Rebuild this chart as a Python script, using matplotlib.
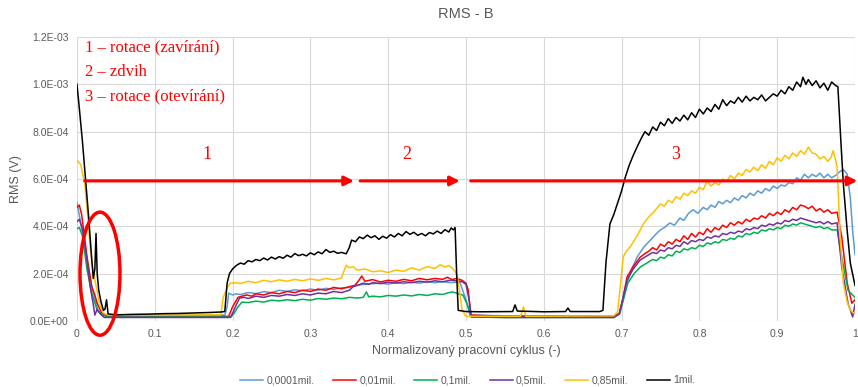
import matplotlib

matplotlib.use("Agg")
import matplotlib.pyplot as plt
import numpy as np
from matplotlib.patches import Ellipse
from matplotlib.ticker import FuncFormatter

# RMS traces over the normalised working cycle, values in units of 1e-4 V
UNIT = 1e-4

x_0001 = [0, 0.004, 0.008, 0.014, 0.021, 0.027, 0.034, 0.1, 0.19, 0.193, 0.195, 0.2, 0.205,
          0.21, 0.22, 0.23, 0.24, 0.25, 0.26, 0.27, 0.28, 0.29, 0.30, 0.31, 0.32, 0.33, 0.34,
          0.35, 0.36, 0.37, 0.38, 0.39, 0.40, 0.41, 0.42, 0.43, 0.44, 0.45, 0.46, 0.47, 0.48,
          0.492, 0.5, 0.505, 0.55, 0.69, 0.698, 0.703, 0.707, 0.713, 0.72, 0.728, 0.737, 0.745,
          0.75, 0.755, 0.762, 0.768, 0.775, 0.78, 0.786, 0.792, 0.798, 0.805, 0.81, 0.815, 0.82,
          0.825, 0.83, 0.835, 0.84, 0.845, 0.85, 0.855, 0.86, 0.865, 0.87, 0.875, 0.88, 0.885,
          0.89, 0.895, 0.90, 0.905, 0.91, 0.915, 0.92, 0.925, 0.93, 0.935, 0.94, 0.945, 0.95,
          0.955, 0.96, 0.965, 0.97, 0.975, 0.98, 0.985, 0.99, 0.994, 0.997, 1.0]
y_0001 = [5.0, 4.3, 3.5, 2.28, 1.18, 0.46, 0.25, 0.24, 0.25, 0.6, 1.18, 1.1, 1.15,
          1.12, 1.2, 1.16, 1.24, 1.2, 1.3, 1.25, 1.32, 1.28, 1.35, 1.3, 1.38, 1.34, 1.4,
          1.42, 1.52, 1.55, 1.58, 1.6, 1.56, 1.62, 1.58, 1.64, 1.6, 1.66, 1.62, 1.66, 1.62,
          1.65, 0.9, 0.25, 0.22, 0.22, 0.33, 1.0, 1.6, 2.2, 2.7, 3.1, 3.42, 3.7,
          3.85, 3.95, 4.14, 4.05, 4.35, 4.25, 4.55, 4.7, 4.55, 4.8, 4.7, 4.9, 4.8,
          5.05, 4.95, 5.1, 5.0, 5.2, 5.1, 5.3, 5.2, 5.4, 5.3, 5.5, 5.4, 5.6,
          5.5, 5.7, 5.6, 5.75, 5.7, 5.85, 5.8, 6.05, 5.95, 6.2, 6.05, 6.2, 6.1,
          6.25, 6.05, 6.2, 6.05, 6.15, 6.3, 6.4, 6.2, 5.2, 3.8, 2.8]

x_001 = [0, 0.003, 0.006, 0.013, 0.019, 0.023, 0.026, 0.032, 0.04, 0.1, 0.195, 0.2, 0.207,
         0.212, 0.218, 0.225, 0.23, 0.24, 0.25, 0.26, 0.27, 0.28, 0.29, 0.30, 0.31, 0.32,
         0.33, 0.34, 0.35, 0.357, 0.362, 0.366, 0.37, 0.38, 0.39, 0.40, 0.41, 0.42, 0.43,
         0.44, 0.45, 0.46, 0.47, 0.476, 0.482, 0.488, 0.495, 0.5, 0.503, 0.506, 0.55, 0.69,
         0.697, 0.702, 0.707, 0.715, 0.724, 0.73, 0.735, 0.74, 0.745, 0.75, 0.755, 0.76,
         0.765, 0.77, 0.775, 0.78, 0.785, 0.79, 0.795, 0.80, 0.805, 0.81, 0.815, 0.82, 0.825,
         0.83, 0.835, 0.84, 0.845, 0.85, 0.855, 0.86, 0.865, 0.87, 0.875, 0.88, 0.885, 0.89,
         0.895, 0.90, 0.905, 0.91, 0.915, 0.92, 0.925, 0.93, 0.935, 0.94, 0.945, 0.95, 0.955,
         0.96, 0.965, 0.97, 0.977, 0.983, 0.99, 0.996, 1.0]
y_001 = [4.8, 4.9, 4.5, 2.7, 1.45, 1.1, 0.75, 0.33, 0.2, 0.2, 0.2, 0.6, 1.0,
         1.05, 1.1, 1.05, 1.15, 1.1, 1.2, 1.15, 1.25, 1.2, 1.3, 1.25, 1.35, 1.3,
         1.42, 1.36, 1.45, 1.5, 1.7, 1.9, 1.68, 1.75, 1.65, 1.72, 1.68, 1.76, 1.7,
         1.8, 1.74, 1.8, 1.76, 1.85, 1.75, 1.8, 1.72, 1.6, 1.3, 0.25, 0.2, 0.2,
         0.3, 1.0, 1.86, 2.3, 2.7, 2.85, 2.95, 3.1, 3.0, 3.25, 3.15, 3.35,
         3.25, 3.45, 3.35, 3.6, 3.45, 3.7, 3.55, 3.75, 3.65, 3.9, 3.75, 3.95, 3.85,
         4.05, 3.95, 4.15, 4.05, 4.2, 4.1, 4.3, 4.2, 4.35, 4.3, 4.45, 4.35, 4.55,
         4.45, 4.6, 4.5, 4.7, 4.6, 4.8, 4.7, 4.9, 4.85, 4.75, 4.85, 4.65, 4.75,
         4.6, 4.7, 4.55, 4.6, 3.55, 1.6, 0.75, 0.9]

x_01 = [0, 0.003, 0.007, 0.013, 0.019, 0.026, 0.032, 0.04, 0.1, 0.198, 0.202, 0.207, 0.212,
        0.22, 0.23, 0.24, 0.25, 0.26, 0.27, 0.28, 0.29, 0.30, 0.31, 0.32, 0.33, 0.34, 0.35,
        0.36, 0.368, 0.372, 0.375, 0.38, 0.39, 0.40, 0.41, 0.42, 0.43, 0.44, 0.45, 0.46, 0.47,
        0.478, 0.483, 0.49, 0.496, 0.503, 0.507, 0.55, 0.69, 0.697, 0.703, 0.708, 0.716,
        0.724, 0.73, 0.735, 0.74, 0.745, 0.75, 0.755, 0.76, 0.765, 0.77, 0.775, 0.78, 0.785,
        0.79, 0.795, 0.80, 0.805, 0.81, 0.815, 0.82, 0.825, 0.83, 0.835, 0.84, 0.845, 0.85,
        0.855, 0.86, 0.865, 0.87, 0.875, 0.88, 0.885, 0.89, 0.895, 0.90, 0.905, 0.91, 0.915,
        0.92, 0.925, 0.93, 0.935, 0.94, 0.945, 0.95, 0.955, 0.96, 0.965, 0.97, 0.977, 0.983,
        0.991, 1.0]
y_01 = [3.9, 3.95, 3.6, 2.16, 1.18, 0.46, 0.25, 0.17, 0.17, 0.17, 0.33, 0.6, 0.8,
        0.78, 0.84, 0.8, 0.88, 0.85, 0.9, 0.86, 0.92, 0.88, 0.95, 0.92, 0.97, 0.94, 1.0,
        0.97, 1.0, 1.23, 1.02, 1.05, 1.02, 1.08, 1.05, 1.1, 1.06, 1.12, 1.08, 1.15, 1.12,
        1.2, 1.23, 1.15, 1.1, 0.6, 0.17, 0.15, 0.15, 0.3, 1.0, 1.6, 2.0,
        2.28, 2.4, 2.5, 2.6, 2.55, 2.7, 2.65, 2.8, 2.75, 2.95, 2.9, 3.05, 3.0,
        3.1, 3.05, 3.2, 3.15, 3.3, 3.25, 3.35, 3.3, 3.45, 3.4, 3.5, 3.45, 3.6,
        3.55, 3.7, 3.65, 3.75, 3.7, 3.85, 3.8, 3.9, 3.85, 3.95, 3.9, 4.05, 4.0,
        4.1, 4.05, 4.15, 4.1, 4.05, 4.0, 3.95, 4.0, 3.9, 3.95, 3.85, 3.85, 2.7,
        1.3, 1.0]

x_05 = [0, 0.003, 0.007, 0.012, 0.017, 0.021, 0.023, 0.026, 0.03, 0.035, 0.1, 0.197, 0.2,
        0.205, 0.209, 0.215, 0.22, 0.23, 0.24, 0.25, 0.26, 0.27, 0.28, 0.29, 0.30, 0.31,
        0.32, 0.33, 0.34, 0.35, 0.355, 0.36, 0.368, 0.375, 0.38, 0.39, 0.40, 0.41, 0.42,
        0.43, 0.44, 0.45, 0.46, 0.47, 0.48, 0.488, 0.495, 0.5, 0.504, 0.507, 0.55, 0.69,
        0.697, 0.702, 0.707, 0.715, 0.724, 0.73, 0.735, 0.74, 0.745, 0.75, 0.755, 0.76,
        0.765, 0.77, 0.775, 0.78, 0.785, 0.79, 0.795, 0.80, 0.805, 0.81, 0.815, 0.82, 0.825,
        0.83, 0.835, 0.84, 0.845, 0.85, 0.855, 0.86, 0.865, 0.87, 0.875, 0.88, 0.885, 0.89,
        0.895, 0.90, 0.905, 0.91, 0.915, 0.92, 0.925, 0.93, 0.935, 0.94, 0.945, 0.95, 0.955,
        0.96, 0.965, 0.97, 0.977, 0.983, 0.991, 0.997, 1.0]
y_05 = [4.2, 4.3, 3.9, 2.8, 1.45, 0.7, 0.25, 0.5, 0.3, 0.15, 0.15, 0.15, 0.33,
        0.7, 0.97, 1.0, 0.95, 1.05, 1.0, 1.08, 1.05, 1.12, 1.08, 1.15, 1.1, 1.18,
        1.15, 1.25, 1.2, 1.3, 1.45, 1.5, 1.6, 1.55, 1.62, 1.58, 1.64, 1.6, 1.66,
        1.62, 1.68, 1.64, 1.7, 1.66, 1.72, 1.7, 1.66, 1.55, 0.9, 0.17, 0.15, 0.15,
        0.3, 1.0, 1.73, 2.2, 2.58, 2.7, 2.8, 2.9, 2.85, 3.0, 2.95, 3.1,
        3.05, 3.2, 3.15, 3.35, 3.25, 3.4, 3.35, 3.45, 3.4, 3.55, 3.5, 3.6, 3.55,
        3.7, 3.65, 3.75, 3.7, 3.8, 3.75, 3.9, 3.85, 3.95, 3.9, 4.05, 4.0, 4.1,
        4.05, 4.15, 4.1, 4.25, 4.2, 4.3, 4.25, 4.35, 4.3, 4.25, 4.2, 4.15, 4.2,
        4.1, 4.2, 4.1, 4.15, 2.28, 0.75, 0.17, 0.7]

x_085 = [0, 0.005, 0.01, 0.014, 0.017, 0.02, 0.023, 0.027, 0.03, 0.034, 0.04, 0.1, 0.185,
         0.188, 0.193, 0.197, 0.205, 0.21, 0.22, 0.23, 0.24, 0.25, 0.26, 0.27, 0.28, 0.29,
         0.30, 0.31, 0.32, 0.33, 0.34, 0.343, 0.346, 0.35, 0.355, 0.36, 0.37, 0.38, 0.39,
         0.40, 0.41, 0.42, 0.43, 0.44, 0.45, 0.46, 0.467, 0.473, 0.478, 0.482, 0.486, 0.489,
         0.492, 0.495, 0.5, 0.57, 0.574, 0.577, 0.69, 0.695, 0.7, 0.702, 0.706, 0.711, 0.72,
         0.728, 0.735, 0.74, 0.745, 0.75, 0.755, 0.76, 0.765, 0.77, 0.775, 0.78, 0.785, 0.79,
         0.795, 0.80, 0.805, 0.81, 0.815, 0.82, 0.825, 0.83, 0.835, 0.84, 0.845, 0.85, 0.855,
         0.86, 0.865, 0.87, 0.875, 0.88, 0.885, 0.89, 0.895, 0.90, 0.905, 0.91, 0.915, 0.92,
         0.925, 0.93, 0.935, 0.94, 0.945, 0.95, 0.955, 0.96, 0.965, 0.969, 0.972, 0.975,
         0.977, 0.981, 0.985, 0.99, 0.994, 1.0]
y_085 = [6.8, 6.6, 5.8, 4.4, 3.1, 2.3, 1.73, 1.1, 0.6, 0.33, 0.25, 0.25, 0.26,
         1.0, 1.4, 1.6, 1.62, 1.58, 1.68, 1.62, 1.72, 1.66, 1.74, 1.68, 1.76, 1.7,
         1.78, 1.72, 1.8, 1.74, 1.82, 2.1, 2.35, 2.25, 2.3, 2.15, 2.2, 2.08, 2.12,
         2.05, 2.15, 2.1, 2.25, 2.15, 2.3, 2.22, 2.38, 2.28, 2.35, 2.24, 2.1, 1.86,
         1.2, 0.46, 0.2, 0.2, 0.6, 0.2, 0.22, 0.4, 2.0, 2.7, 2.95, 3.13, 3.6,
         4.1, 4.4, 4.55, 4.75, 4.95, 4.85, 5.1, 5.0, 5.25, 5.15, 5.4, 5.3, 5.5,
         5.4, 5.65, 5.55, 5.9, 5.7, 5.85, 5.75, 6.0, 5.9, 6.15, 6.0, 6.25, 6.15,
         6.4, 6.3, 6.5, 6.35, 6.6, 6.45, 6.75, 6.6, 6.9, 6.75, 7.0, 6.85, 7.1,
         6.95, 7.2, 7.05, 7.35, 7.1, 7.05, 6.85, 6.95, 6.75, 6.9, 7.2, 6.8,
         6.5, 3.55, 1.6, 0.8, 0.46, 0.3]

x_1 = [0, 0.003, 0.007, 0.011, 0.015, 0.019, 0.021, 0.023, 0.0245, 0.026, 0.028, 0.031,
       0.034, 0.036, 0.038, 0.04, 0.05, 0.07, 0.09, 0.11, 0.13, 0.15, 0.17, 0.185, 0.19,
       0.193, 0.196, 0.2, 0.205, 0.21, 0.215, 0.22, 0.225, 0.23, 0.235, 0.24, 0.245, 0.25,
       0.255, 0.26, 0.265, 0.27, 0.275, 0.28, 0.285, 0.29, 0.295, 0.30, 0.305, 0.31, 0.315,
       0.32, 0.325, 0.33, 0.335, 0.34, 0.346, 0.35, 0.353, 0.358, 0.363, 0.368, 0.373,
       0.378, 0.383, 0.388, 0.393, 0.398, 0.403, 0.408, 0.413, 0.418, 0.423, 0.428, 0.433,
       0.438, 0.443, 0.448, 0.453, 0.458, 0.463, 0.468, 0.473, 0.478, 0.481, 0.484, 0.486,
       0.488, 0.49, 0.5, 0.52, 0.56, 0.563, 0.566, 0.6, 0.628, 0.631, 0.634, 0.672, 0.676,
       0.68, 0.685, 0.69, 0.695, 0.7, 0.705, 0.71, 0.715, 0.72, 0.725, 0.73, 0.735, 0.74,
       0.745, 0.75, 0.755, 0.76, 0.765, 0.77, 0.775, 0.78, 0.785, 0.79, 0.795, 0.80, 0.805,
       0.81, 0.815, 0.82, 0.825, 0.83, 0.835, 0.84, 0.845, 0.85, 0.855, 0.86, 0.865, 0.87,
       0.875, 0.88, 0.885, 0.89, 0.895, 0.90, 0.905, 0.91, 0.915, 0.92, 0.925, 0.93, 0.933,
       0.937, 0.94, 0.945, 0.95, 0.955, 0.96, 0.965, 0.97, 0.975, 0.978, 0.982, 0.985,
       0.99, 0.994, 1.0]
y_1 = [10.0, 9.0, 7.6, 6.0, 4.4, 2.6, 1.8, 2.2, 3.7, 2.0, 1.3, 0.8,
       0.45, 0.5, 0.9, 0.3, 0.26, 0.28, 0.29, 0.31, 0.32, 0.34, 0.36, 0.38, 0.4,
       1.6, 2.0, 2.2, 2.35, 2.45, 2.4, 2.55, 2.5, 2.6, 2.55, 2.66, 2.58, 2.7,
       2.62, 2.72, 2.65, 2.78, 2.7, 2.85, 2.76, 2.82, 2.75, 2.88, 2.8, 2.92, 2.84,
       3.02, 2.9, 2.95, 2.86, 2.9, 2.84, 3.1, 3.42, 3.35, 3.55, 3.48, 3.63,
       3.52, 3.6, 3.45, 3.58, 3.5, 3.65, 3.55, 3.7, 3.6, 3.78, 3.66, 3.75,
       3.62, 3.7, 3.6, 3.74, 3.68, 3.8, 3.7, 3.86, 3.76, 3.93, 3.85, 3.95,
       2.0, 0.45, 0.4, 0.39, 0.4, 0.68, 0.42, 0.39, 0.4, 0.55, 0.4, 0.4, 0.45,
       2.5, 4.1, 4.5, 5.0, 5.5, 6.1, 6.6, 7.0, 7.36, 7.7, 8.0, 7.85, 8.2,
       8.05, 8.4, 8.25, 8.55, 8.35, 8.6, 8.45, 8.7, 8.5, 8.8, 8.6, 8.95, 8.75,
       9.0, 8.85, 9.15, 8.95, 9.35, 9.1, 9.3, 9.2, 9.45, 9.25, 9.5, 9.3, 9.45,
       9.35, 9.55, 9.3, 9.45, 9.6, 9.5, 9.75, 9.6, 9.9, 9.75, 10.1, 9.9, 10.3,
       10.0, 10.2, 9.95, 10.15, 9.85, 10.05, 9.75, 10.1, 9.95, 9.9, 7.5, 5.8,
       3.8, 2.45, 1.5]

series = [
    ("0,0001mil.", x_0001, y_0001, "#5B9BD5"),
    ("0,01mil.", x_001, y_001, "#FF0000"),
    ("0,1mil.", x_01, y_01, "#00B050"),
    ("0,5mil.", x_05, y_05, "#7030A0"),
    ("0,85mil.", x_085, y_085, "#FFC000"),
    ("1mil.", x_1, y_1, "#000000"),
]

phase_notes = ["1 – rotace (zavírání)", "2 – zdvih", "3 – rotace (otevírání)"]
x_ticks = [0, 0.1, 0.2, 0.3, 0.4, 0.5, 0.6, 0.7, 0.8, 0.9, 1.0]
x_tick_labels = ["0", "0.1", "0.2", "0.3", "0.4", "0.5", "0.6", "0.7", "0.8", "0.9", "1"]

GREY = "#595959"
plt.rcParams["font.family"] = ["Liberation Sans", "DejaVu Sans"]

fig = plt.figure(figsize=(8.58, 3.87), dpi=100)
ax = fig.add_axes([0.0897, 0.1705, 0.9068, 0.7339])

for label, xs, ys, color in series:
    ax.plot(xs, np.array(ys) * UNIT, color=color, lw=1.1, label=label)

ax.set_xlim(0, 1)
ax.set_ylim(0, 1.2e-3)
ax.set_xticks(x_ticks)
ax.set_xticklabels(x_tick_labels)
ax.set_yticks(np.arange(0, 1.21e-3, 2e-4))
ax.yaxis.set_major_formatter(FuncFormatter(lambda v, _: f"{v:.1E}"))
ax.tick_params(length=0, labelsize=7.5, labelcolor=GREY, pad=6)
ax.grid(True, color="#D9D9D9", lw=0.8)
ax.set_axisbelow(True)
for s in ax.spines.values():
    s.set_visible(False)

ax.set_title("RMS - B", fontsize=10.5, color=GREY, pad=14)
ax.set_xlabel("Normalizovaný pracovní cyklus (-)", fontsize=9, color=GREY, labelpad=4)
ax.set_ylabel("RMS (V)", fontsize=9, color=GREY, labelpad=6)

# phase descriptions
serif = ["Liberation Serif", "DejaVu Serif"]
for i, note in enumerate(phase_notes):
    ax.text(0.01, 1.155e-3 - i * 1.03e-4, note, family=serif, fontsize=12,
            color="red", va="center", ha="left")

# phase arrows with their numbers
arrow_y = 5.92e-4
for start, end, num, nx in [(0.01, 0.356, "1", 0.167), (0.364, 0.492, "2", 0.424),
                            (0.506, 1.003, "3", 0.77)]:
    ax.annotate("", xy=(end, arrow_y), xytext=(start, arrow_y),
                arrowprops=dict(arrowstyle="-|>", color="red", lw=2.2, mutation_scale=14,
                                shrinkA=0, shrinkB=0),
                annotation_clip=False)
    ax.text(nx, 7.05e-4, num, family=serif, fontsize=13, color="red",
            ha="center", va="center")

ax.add_patch(Ellipse((0.0296, 2.0e-4), 0.0514, 5.2e-4, fill=False, edgecolor="red",
                     lw=2.5, clip_on=False, zorder=5))

leg = fig.legend(loc="lower center", bbox_to_anchor=(0.545, -0.02), ncol=6, frameon=False,
                 fontsize=7.5, handlelength=2.2, handletextpad=0.3, columnspacing=1.8)
for t in leg.get_texts():
    t.set_color(GREY)

fig.savefig("out.png", dpi=100)
